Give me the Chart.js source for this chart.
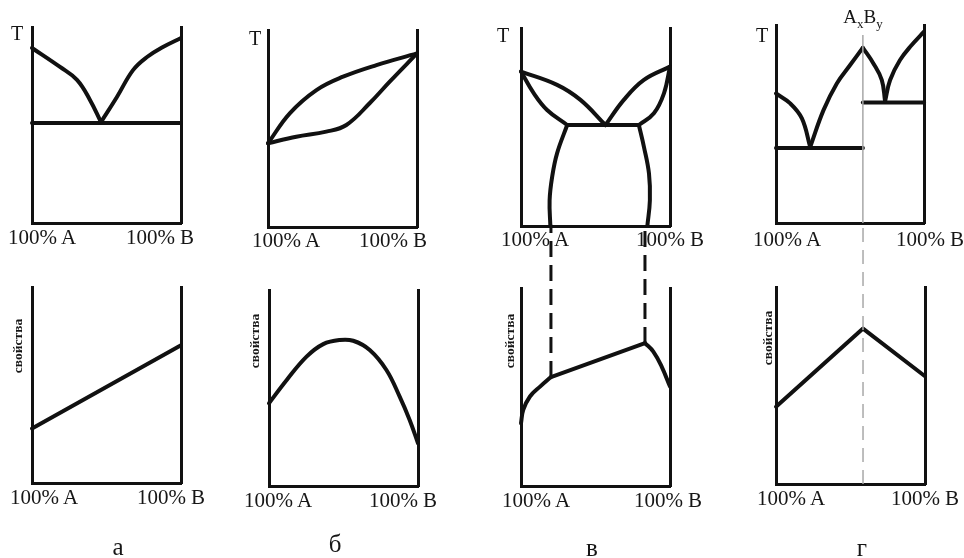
<!DOCTYPE html>
<html>
<head>
<meta charset="utf-8">
<script src="https://cdn.jsdelivr.net/npm/chart.js@4/dist/chart.umd.min.js"></script>
<style>
  body { margin: 0; background: #fff; }
  #page { position: relative; width: 964px; height: 558px; overflow: hidden; background: #fff; }
  canvas { position: absolute; }
  .txt { position: absolute; transform: translate(-50%, -50%); white-space: nowrap;
         font-family: "Liberation Serif", "DejaVu Serif", serif; color: #161616; line-height: 1; }
  .tick { font-size: 21px; }
  .axisT { font-size: 20px; }
  .letter { font-size: 25px; }
  .prop { font-size: 13.5px; font-weight: bold; transform: translate(-50%, -50%) rotate(-90deg); }
  .comp { font-size: 19px; }
  .comp sub { font-size: 0.68em; vertical-align: -0.35em; }
</style>
</head>
<body>
<div id="page"></div>
<script>
// composition 0..100 (% B), temperature / property 0..100
const compLabels = ["100% A", "100% B"]
const panelLetters = ["а", "б", "в", "г"]
const tempTitle = "T"
const propTitle = "свойства"

// a: eutectic, no solubility
const aLiqA = [[0, 89.3], [18.8, 79.6], [30.2, 73], [38.9, 62.8], [46.3, 51.5]]
const aLiqB = [[46.3, 51.5], [57, 64.3], [67.8, 78], [77.2, 84.7], [87.9, 89.8], [100, 94.4]]
const aEut = [[0, 51], [100, 51]]
const aProp = [[0, 27.8], [100, 70.3]]

// б: unlimited solid solutions
const bLiq = [[0, 42.5], [14.6, 57.7], [32.5, 69.5], [50.4, 76.3], [72.8, 82.2], [100, 88.1]]
const bSol = [[0, 42.5], [19, 45.8], [39.1, 48.4], [52.6, 51.8], [68.2, 62.8], [81.7, 73.8], [100, 88.1]]
const bProp = [[0, 42.2], [11.9, 54.1], [25.2, 66], [36.4, 72.4], [47.5, 74.5], [56.5, 74.1],
               [67.6, 69.4], [78.8, 59.2], [87.7, 45.6], [94.4, 33.7], [100, 21.8]]

// в: limited solubility
const vLiqA = [[0, 78], [24.2, 71.3], [39.9, 63.7], [56.7, 51]]
const vSolA = [[0, 78], [8.5, 67.1], [17.5, 58.6], [31, 51]]
const vEut = [[31, 51], [79.1, 51]]
const vLiqB = [[56.7, 51], [69, 63.7], [82.5, 73.8], [100, 80.5]]
const vSolB = [[79.1, 51], [89.2, 56.9], [96, 67.1], [100, 80.5]]
const vSolvA = [[31, 51], [24.2, 36.7], [20.9, 24.8], [19.2, 13], [19.7, 0]]
const vSolvB = [[79.1, 51], [82.5, 40], [85.9, 26.5], [86.5, 13], [84.8, 0]]
const vPropA = [[0, 31.7], [1.5, 38.4], [6, 45.2], [12.8, 50.2], [20.1, 55]]
const vPropMid = [[20.1, 55], [83.2, 72.2]]
const vPropB = [[83.2, 72.2], [88.8, 67.9], [94.4, 60.3], [100, 50.2]]
const vLinkA = [[20.1, 55], [20.1, 132]]
const vLinkB = [[83.2, 72.2], [83.2, 132]]

// г: chemical compound AxBy
const gLiqA = [[0, 65.4], [9.6, 60.4], [17.5, 52.8], [23.1, 38.4]]
const gEut1 = [[0, 37.9], [58.7, 37.9]]
const gLiqC1 = [[23.1, 38.4], [32.1, 57], [41.1, 70.5], [50.1, 79.8], [58.7, 88.5]]
const gLiqC2 = [[58.7, 88.5], [65.8, 80.6], [71.5, 72.2], [73.7, 61.5]]
const gLiqB = [[73.7, 61.5], [77.1, 72.2], [83.8, 82.3], [91.7, 89.9], [100, 96.6]]
const gEut2 = [[58.7, 60.9], [100, 60.9]]
const gCompound = [[58.7, 95], [58.7, 0]]
const gProp = [[0, 39.2], [58.4, 78.9], [100, 54.7]]
const gLink = [[58.4, 0], [58.4, 132.4]]

const page = document.getElementById("page")
const M = 70
const INK = "#111"

pts = arr => arr.map(p => ({ x: p[0], y: p[1] }))

curve = (arr, tension = 0.4) => ({
    data: pts(arr), showLine: true, pointRadius: 0, borderColor: INK, borderWidth: 4,
    tension, borderCapStyle: "round", borderJoinStyle: "round", clip: false
})

dashed = (arr, color, width, dash) => ({
    data: pts(arr), showLine: true, pointRadius: 0, borderColor: color, borderWidth: width,
    tension: 0, borderDash: dash, clip: false
})

axisOpts = position => ({
    type: "linear", position, min: 0, max: 100,
    grid: { display: false, drawTicks: false },
    ticks: { display: false },
    border: { display: true, color: INK, width: 3 }
})

//#region Chart creation
CreatePanel = (box, datasets) => {
    let canvas = document.createElement("canvas")
    canvas.width = box.w + 2 * M
    canvas.height = box.h + 2 * M
    canvas.style.left = (box.x - M) + "px"
    canvas.style.top = (box.y - M) + "px"
    page.appendChild(canvas)
    new Chart(canvas, {
        type: "scatter",
        data: { datasets },
        options: {
            responsive: false, animation: false, events: [],
            layout: { padding: M },
            plugins: { legend: { display: false }, tooltip: { enabled: false } },
            scales: { x: axisOpts("bottom"), y: axisOpts("left"), y2: axisOpts("right") }
        }
    })
}

AddText = (html, cx, cy, cls) => {
    let d = document.createElement("div")
    d.className = "txt " + cls
    d.innerHTML = html
    d.style.left = cx + "px"
    d.style.top = cy + "px"
    page.appendChild(d)
}
//#endregion

//#region Top row: phase diagrams
CreatePanel({ x: 32, y: 27, w: 149, h: 196 }, [curve(aLiqA), curve(aLiqB), curve(aEut, 0)])
CreatePanel({ x: 268, y: 30, w: 149, h: 197 }, [curve(bLiq), curve(bSol)])
CreatePanel({ x: 521, y: 28, w: 149, h: 198 }, [
    curve(vLiqA), curve(vSolA), curve(vEut, 0), curve(vLiqB), curve(vSolB),
    curve(vSolvA), curve(vSolvB)
])
CreatePanel({ x: 776, y: 25, w: 148, h: 198 }, [
    dashed(gCompound, "#a8a8a8", 1.5, []),
    curve(gLiqA), curve(gEut1, 0), curve(gLiqC1), curve(gLiqC2), curve(gLiqB), curve(gEut2, 0)
])
//#endregion

//#region Bottom row: property curves
CreatePanel({ x: 32, y: 287, w: 149, h: 196 }, [curve(aProp, 0)])
CreatePanel({ x: 269, y: 290, w: 149, h: 196 }, [curve(bProp)])
CreatePanel({ x: 521, y: 288, w: 149, h: 198 }, [
    dashed(vLinkA, INK, 3, [16, 8]), dashed(vLinkB, INK, 3, [16, 8]),
    curve(vPropA), curve(vPropMid, 0), curve(vPropB)
])
CreatePanel({ x: 776, y: 287, w: 149, h: 197 }, [
    dashed(gLink, "#a8a8a8", 1.5, [14, 8]), curve(gProp, 0)
])
//#endregion

//#region Texts
let topTicks = [[42, 160], [286, 393], [535, 670], [787, 930]]
let topTickY = [237, 240, 239, 239]
let botTicks = [[44, 171], [278, 403], [536, 668], [791, 925]]
let botTickY = [497, 500, 500, 498]
let tPos = [[17, 33], [255, 38], [503, 35], [762, 35]]
let propPos = [[18, 346], [255, 341], [510, 341], [768, 338]]
let letterPos = [[118, 546], [335, 543], [592, 547], [862, 547]]

for (let i = 0; i < 4; i++) {
    AddText(compLabels[0], topTicks[i][0], topTickY[i], "tick")
    AddText(compLabels[1], topTicks[i][1], topTickY[i], "tick")
    AddText(compLabels[0], botTicks[i][0], botTickY[i], "tick")
    AddText(compLabels[1], botTicks[i][1], botTickY[i], "tick")
    AddText(tempTitle, tPos[i][0], tPos[i][1], "axisT")
    AddText(propTitle, propPos[i][0], propPos[i][1], "prop")
    AddText(panelLetters[i], letterPos[i][0], letterPos[i][1], "letter")
}
AddText("A<sub>x</sub>B<sub>y</sub>", 863, 19, "comp")
//#endregion
</script>
</body>
</html>
